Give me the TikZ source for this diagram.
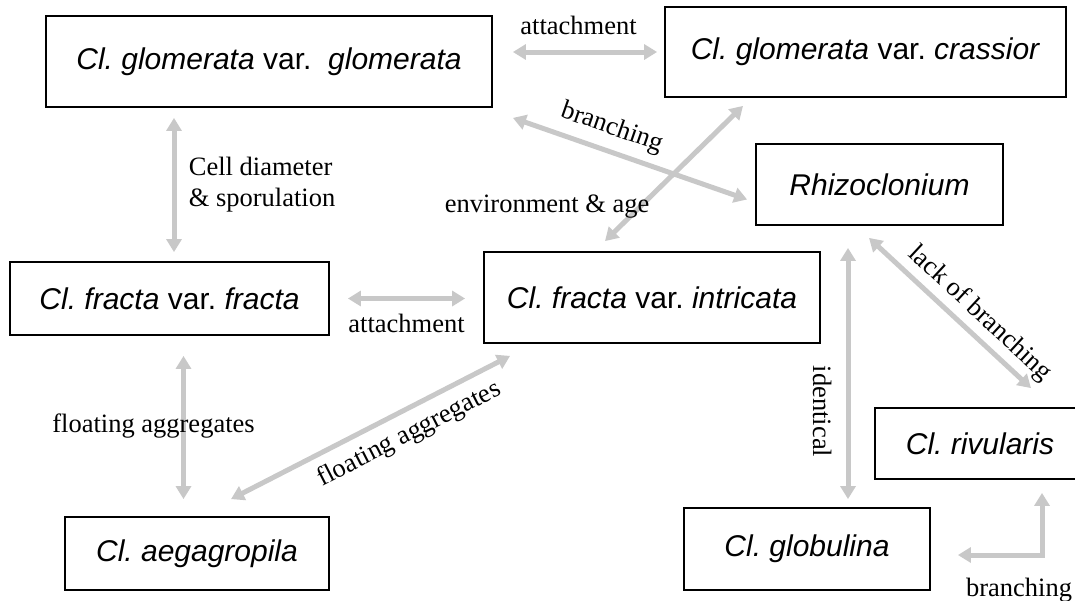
\documentclass[tikz,border=0pt]{standalone}
\usepackage{fontspec}
\setmainfont{Liberation Serif}
\newfontfamily\arialfont{Liberation Sans}
\usetikzlibrary{arrows.meta}
\definecolor{linkgray}{RGB}{200,200,200}
\frenchspacing

\begin{document}
\begin{tikzpicture}[%
			x=1pt, y=-1pt,
			font=\fontsize{26.5}{31}\selectfont,
			taxon/.style={%
				draw,
				line width=1.8pt,
				font=\arialfont\fontsize{30}{36}\selectfont
			},
			link/.style={%
				draw=linkgray,
				line width=5pt,
				{Triangle[width=15pt,length=13pt]}-{Triangle[width=15pt,length=13pt]}
			}
			]
			\useasboundingbox (0,0) rectangle (1075,600);
			\node[taxon, minimum width=446pt, minimum height=91pt] (glom) at (269,61.5) {\textit{Cl. glomerata} var.~\ \textit{glomerata}};
			\node[taxon, minimum width=401pt, minimum height=90pt] (crass) at (865.5,52) {\textit{Cl. glomerata} var. \textit{crassior}};
			\node[taxon, minimum width=247pt, minimum height=81pt] (rhizo) at (879.5,184.5) {\textit{Rhizoclonium}};
			\node[taxon, minimum width=319pt, minimum height=73pt] (fracta) at (169.5,298.5) {\textit{Cl. fracta} var. \textit{fracta}};
			\node[taxon, minimum width=336pt, minimum height=91pt] (intric) at (652,297.5) {\textit{Cl. fracta} var. \textit{intricata}};
			\node[taxon, minimum width=210pt, minimum height=71pt] (rivul) at (980,443.5) {\textit{Cl. rivularis}};
			\node[taxon, minimum width=246pt, minimum height=82pt] (globul) at (807,549) {\textit{Cl. globulina}};
			\node[taxon, minimum width=264pt, minimum height=73pt] (aegag) at (197,553.5) {\textit{Cl. aegagropila}};
			
			\draw[link, shorten <=20pt, shorten >=7pt] (glom.east |- crass.west) -- node[above=11pt] {attachment} (crass.west);
			\draw[link] ([shift={(20,10)}]glom.south east) -- node[sloped, above=5pt, pos=0.39] {branching} ([shift={(-8,15)}]rhizo.west);
			\draw[link] ([shift={(-47,-10)}]intric.north) -- node[pos=0.255, anchor=east, xshift=15pt] {environment \& age} ([shift={(-122.5,8)}]crass.south);
			\draw[link, shorten <=10pt, shorten >=9pt] ([xshift=4.5pt]fracta.north |- glom.south) -- node[right=9pt, align=left] {Cell diameter\\\& sporulation} ([xshift=4.5pt]fracta.north);
			\draw[link, shorten <=18pt, shorten >=18pt] (fracta.east) -- node[below=10pt] {attachment} (fracta.east -| intric.west);
			\draw[link, shorten <=20pt, shorten >=17pt] ([xshift=14pt]fracta.south) -- node[xshift=-30pt] {floating aggregates} ([xshift=14pt]fracta.south |- aegag.north);
			\draw[link] ([shift={(34,-17)}]aegag.north) -- node[sloped, below=6pt, pos=0.6] {floating aggregates} ([shift={(27,12)}]intric.south west);
			\draw[link, shorten <=22pt, shorten >=8pt] ([xshift=-31.5pt]rhizo.south) -- node[pos=0.66, rotate=-90, anchor=north, inner ysep=14pt] {identical} ([xshift=-31.5pt]rhizo.south |- globul.north);
			\draw[link] ([shift={(-10.5,12)}]rhizo.south) -- node[sloped, above=2pt, pos=0.6] {lack of branching} ([shift={(51,-19)}]rivul.north);
			\draw[link, shorten <=13pt, shorten >=27pt] ([xshift=62pt]rivul.south) |- node[pos=0.5, below=17pt, xshift=-23pt] {branching} ([yshift=-6pt]globul.east);
			\end{tikzpicture}
\end{document}
